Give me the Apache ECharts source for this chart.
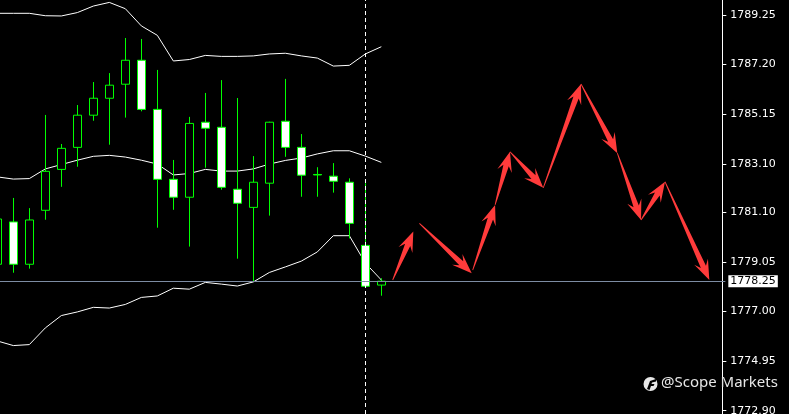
<!DOCTYPE html>
<html>
<head>
<meta charset="utf-8">
<script src="https://cdn.jsdelivr.net/npm/echarts@6/dist/echarts.min.js"></script>
<style>
html,body{margin:0;padding:0;background:#000;}
#chart{width:789px;height:414px;}
</style>
</head>
<body>
<div id="chart"></div>
<script>
// ---- data ----
const slotCount = 46;
const categories = Array.from({length: slotCount}, (_, i) => 'bar' + i);
const opens  = [1778.95,1780.70,1778.95,1781.18,1782.87,1783.78,1785.11,1785.81,1786.39,1787.38,1785.35,1782.46,1781.72,1784.82,1784.61,1782.05,1781.30,1782.30,1784.86,1783.78,1782.66,1782.59,1782.34,1779.73,1778.09];
const closes = [1780.82,1778.95,1780.78,1782.79,1783.74,1785.11,1785.81,1786.35,1787.38,1785.35,1782.46,1781.72,1784.77,1784.57,1782.13,1781.47,1782.34,1784.82,1783.78,1782.63,1782.64,1782.38,1780.64,1778.04,1778.25];
const lows   = [1778.70,1778.60,1778.77,1780.79,1782.15,1782.98,1784.88,1783.89,1785.01,1785.27,1780.46,1781.20,1779.68,1782.94,1782.03,1779.18,1778.23,1780.96,1783.39,1781.74,1781.74,1781.91,1780.02,1778.04,1777.65];
const highs  = [1781.00,1781.69,1781.27,1785.12,1783.92,1785.53,1786.48,1786.85,1788.30,1788.26,1786.98,1783.26,1785.04,1786.03,1786.56,1785.82,1783.42,1784.84,1786.61,1784.33,1782.96,1783.13,1782.50,1782.30,1778.37];
const upperBand  = [1789.32,1789.32,1789.32,1789.22,1789.21,1789.35,1789.62,1789.77,1789.51,1788.80,1788.41,1787.35,1787.41,1787.58,1787.54,1787.54,1787.56,1787.64,1787.67,1787.56,1787.47,1787.14,1787.17,1787.64,1787.94];
const middleBand = [1782.56,1782.47,1782.49,1782.89,1783.07,1783.25,1783.41,1783.45,1783.38,1783.25,1783.09,1782.64,1782.70,1782.87,1782.80,1782.80,1782.89,1783.09,1783.24,1783.34,1783.51,1783.64,1783.64,1783.42,1783.16];
const lowerBand  = [1775.78,1775.59,1775.63,1776.32,1776.83,1776.98,1777.17,1777.14,1777.29,1777.58,1777.64,1777.96,1777.92,1778.20,1778.13,1778.05,1778.22,1778.61,1778.84,1779.08,1779.46,1780.13,1780.13,1779.00,1778.30];
const tickLabels = [1772.90,1774.95,1777.00,1779.05,1781.10,1783.10,1785.15,1787.20,1789.25];
const currentPrice = 1778.25;
const markerBar = 23;
// forecast arrows (bar index, price)
const arrowFromX = [24.71,26.38,29.71,31.11,32.04,34.12,36.48,38.75,40.23,41.73];
const arrowFromY = [1778.30,1780.64,1778.71,1781.40,1783.60,1782.11,1786.40,1783.54,1780.78,1782.36];
const arrowToX   = [26.00,29.65,31.11,32.04,34.12,36.48,38.75,40.23,41.73,44.50];
const arrowToY   = [1780.30,1778.58,1781.40,1783.60,1782.11,1786.40,1783.54,1780.78,1782.36,1778.30];
const watermark = '@Scope Markets';

// ---- build ----
const candleData = opens.map((o, i) => [o, closes[i], lows[i], highs[i]]);
const arrowData = arrowFromX.map((x, i) => [x, arrowFromY[i], arrowToX[i], arrowToY[i]]);

const chart = echarts.init(document.getElementById('chart'), null, {renderer: 'canvas'});

function renderArrow(params, api) {
  const p1 = api.coord([api.value(0), api.value(1)]);
  const p2 = api.coord([api.value(2), api.value(3)]);
  const dx = p2[0] - p1[0], dy = p2[1] - p1[1];
  const L = Math.sqrt(dx * dx + dy * dy);
  const ux = dx / L, uy = dy / L;
  const nx = -uy, ny = ux;
  const h = Math.min(20, L * 0.45);
  const hw = 7.5, sw = 2.8, s0 = 0.4;
  const jx = p2[0] - ux * h * 0.72, jy = p2[1] - uy * h * 0.72;
  const bx = p2[0] - ux * h, by = p2[1] - uy * h;
  const pts = [
    [p1[0] + nx * s0, p1[1] + ny * s0],
    [jx + nx * sw, jy + ny * sw],
    [bx + nx * hw, by + ny * hw],
    [p2[0], p2[1]],
    [bx - nx * hw, by - ny * hw],
    [jx - nx * sw, jy - ny * sw],
    [p1[0] - nx * s0, p1[1] - ny * s0]
  ];
  return {type: 'polygon', shape: {points: pts}, style: {fill: '#ff3b3b', stroke: null}};
}

const bandStyle = {type: 'line', xAxisIndex: 0, yAxisIndex: 0, symbol: 'none', z: 2,
  lineStyle: {color: '#ffffff', width: 1}, silent: true, animation: false};

chart.setOption({
  backgroundColor: '#000000',
  animation: false,
  grid: {left: -10.67, right: 63.67, top: 0, bottom: 0, containLabel: false, outerBoundsMode: 'none'},
  xAxis: [
    {type: 'category', data: categories, boundaryGap: true, show: false},
    {type: 'value', min: -0.5, max: slotCount - 0.5, show: false}
  ],
  yAxis: {
    type: 'value', position: 'right', offset: -3,
    min: 1772.762, max: 1789.870, scale: true,
    splitLine: {show: false},
    axisLine: {show: true, onZero: false, lineStyle: {color: '#ffffff', width: 1}},
    axisTick: {show: true, inside: false, length: 4, lineStyle: {color: '#ffffff'}, customValues: tickLabels},
    axisLabel: {show: true, color: '#ffffff', fontFamily: 'DejaVu Sans', fontSize: 11, margin: 8,
      customValues: tickLabels, formatter: v => v.toFixed(2)}
  },
  series: [
    {
      type: 'line', data: [], z: 1, silent: true,
      markLine: {
        silent: true, symbol: ['none', 'none'], animation: false,
        data: [
          {yAxis: currentPrice, lineStyle: {color: '#7d8ca3', width: 1, type: 'solid'},
            label: {show: true, position: 'end', distance: 3, formatter: () => currentPrice.toFixed(2),
              color: '#000000', backgroundColor: '#ffffff', fontFamily: 'DejaVu Sans', fontSize: 11,
              padding: [1, 2, 0, 2], lineHeight: 11}},
          {xAxis: markerBar, lineStyle: {color: '#ffffff', width: 1, type: [4, 3]}, label: {show: false}}
        ]
      }
    },
    Object.assign({name: 'upper', data: upperBand}, bandStyle),
    Object.assign({name: 'middle', data: middleBand}, bandStyle),
    Object.assign({name: 'lower', data: lowerBand}, bandStyle),
    {
      type: 'candlestick', data: candleData, z: 3, barWidth: 9,
      itemStyle: {color: '#000000', color0: '#ffffff', borderColor: '#00ff00', borderColor0: '#00ff00',
        borderColorDoji: '#00ff00', borderWidth: 1}
    },
    {
      type: 'custom', xAxisIndex: 1, yAxisIndex: 0, z: 4, data: arrowData,
      encode: {x: [0, 2], y: [1, 3]}, renderItem: renderArrow, silent: true
    }
  ],
  graphic: [
    {type: 'circle', left: 643.5, top: 377, shape: {r: 7}, style: {fill: '#e8e8e8'}, z: 10},
    {type: 'polygon', shape: {points: [[647,389],[650,381],[656,379],[656,381.5],[652,382.5],[651.5,384],[654.5,384],[653.5,386],[651,386],[649.5,390]]},
      style: {fill: '#000000'}, z: 11},
    {type: 'text', left: 661, top: 375, z: 10,
      style: {text: watermark, fill: '#e6e6e6', font: '15px "Noto Sans"'}}
  ]
});
</script>
</body>
</html>
